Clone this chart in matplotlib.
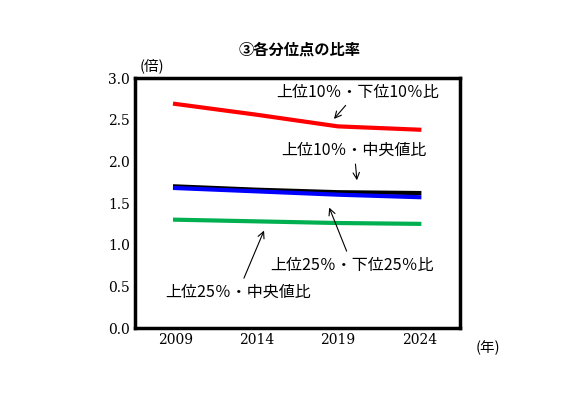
import matplotlib
matplotlib.use("Agg")
import matplotlib.pyplot as plt

plt.rcParams['font.family'] = ['Noto Sans CJK JP', 'DejaVu Sans']

years = [2009, 2014, 2019, 2024]
red = [2.69, 2.56, 2.42, 2.38]
black = [1.70, 1.66, 1.63, 1.62]
blue = [1.68, 1.64, 1.60, 1.57]
green = [1.30, 1.28, 1.26, 1.25]

fig = plt.figure(figsize=(5.86, 4.18), dpi=100)
ax = fig.add_axes([0.2304, 0.2153, 0.5546, 0.598])
ax.plot(years, red, color='#ff0000', lw=3)
ax.plot(years, black, color='black', lw=3)
ax.plot(years, blue, color='#0000ff', lw=3)
ax.plot(years, green, color='#00b050', lw=3)
ax.set_xlim(2006.54, 2026.5)
ax.set_ylim(0, 3)
ax.set_xticks(years)
ax.set_yticks([0, 0.5, 1, 1.5, 2, 2.5, 3])
ax.set_yticklabels(['0.0', '0.5', '1.0', '1.5', '2.0', '2.5', '3.0'])
ax.tick_params(length=0, labelsize=10)
for lab in ax.get_xticklabels() + ax.get_yticklabels():
    lab.set_family('DejaVu Serif')
for s in ax.spines.values():
    s.set_linewidth(2.5)

def dx(px): return 2006.54 + (px - 135) / 16.27
def dy(py): return (328 - py) / 83.33

ap = dict(arrowstyle='->', color='black', lw=0.8)
fs = 11.5
ax.annotate('上位10％・下位10％比', xy=(dx(332), dy(121)), xytext=(dx(357), dy(92)), ha='center', va='center', fontsize=fs, arrowprops=ap)
ax.annotate('上位10％・中央値比', xy=(dx(357), dy(183)), xytext=(dx(354), dy(150)), ha='center', va='center', fontsize=fs, arrowprops=ap)
ax.annotate('上位25％・下位25％比', xy=(dx(328), dy(205)), xytext=(dx(352), dy(265)), ha='center', va='center', fontsize=fs, arrowprops=ap)
ax.annotate('上位25％・中央値比', xy=(dx(265), dy(228)), xytext=(dx(238), dy(292)), ha='center', va='center', fontsize=fs, arrowprops=ap)

fig.text(300/586, 1 - 50/418, '③各分位点の比率', ha='center', va='center', fontsize=11, fontweight='bold')
fig.text(152/586, 1 - 66/418, '(倍)', ha='center', va='center', fontsize=10.5)
fig.text(488/586, 1 - 348/418, '(年)', ha='center', va='center', fontsize=10.5)
fig.savefig('out.png', dpi=100)
